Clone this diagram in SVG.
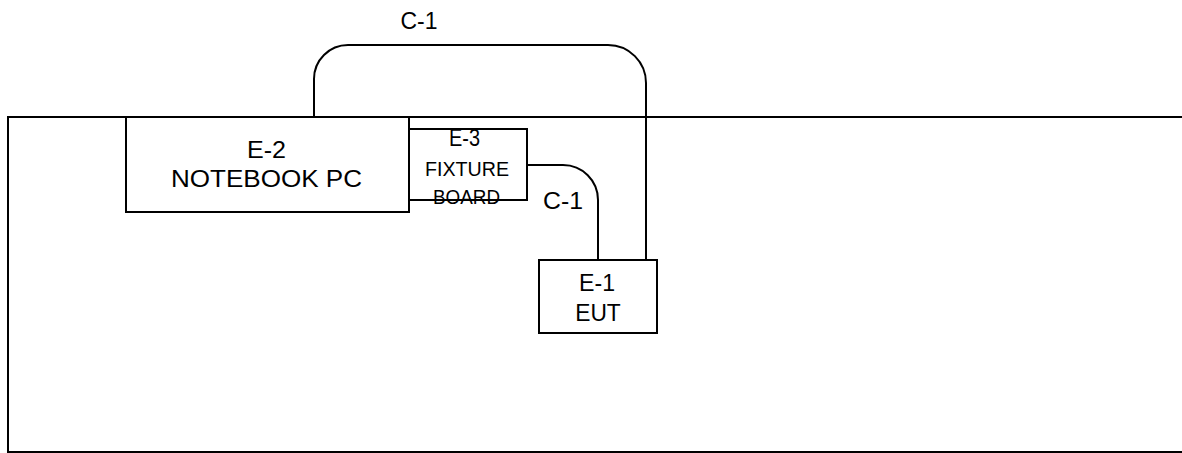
<svg xmlns="http://www.w3.org/2000/svg" width="1182" height="453" viewBox="0 0 1182 453">
<style>
.box{fill:#fff;stroke:#000;stroke-width:2}
.line{fill:none;stroke:#000;stroke-width:2}
text{font-family:"Liberation Sans",Arial,sans-serif;fill:#000;text-anchor:middle}
.t{font-size:23px}
.b{font-size:24px}
.s{font-size:20px}
</style>
<rect width="1182" height="453" fill="#fff"/>
<g id="table">
<path class="line" d="M1183,117 H8 V452 H1183"/>
</g>
<g id="connectors">
<path class="line" d="M314,117 V79 A34,34 0 0 1 348,45 H608 A38,38 0 0 1 646,83 V260"/>
<path class="line" d="M527,165 H563 A35,35 0 0 1 598,200 V260"/>
<text class="t" x="419" y="28.5" textLength="37" lengthAdjust="spacingAndGlyphs">C-1</text>
<text class="t" x="563" y="208.5" textLength="40" lengthAdjust="spacingAndGlyphs">C-1</text>
</g>
<g id="E-2">
<rect class="box" x="126" y="117" width="283" height="95"/>
<text class="b" x="266.5" y="158" textLength="39" lengthAdjust="spacingAndGlyphs">E-2</text>
<text class="b" x="266.5" y="186.5" textLength="191" lengthAdjust="spacingAndGlyphs">NOTEBOOK PC</text>
</g>
<g id="E-3">
<rect class="box" x="409" y="129" width="118" height="71"/>
<text class="t" x="464.5" y="145.5" textLength="31" lengthAdjust="spacingAndGlyphs">E-3</text>
<text class="s" x="467" y="176" textLength="84" lengthAdjust="spacingAndGlyphs">FIXTURE</text>
<text class="s" x="466.5" y="203.5" textLength="67" lengthAdjust="spacingAndGlyphs">BOARD</text>
</g>
<g id="E-1">
<rect class="box" x="539" y="260" width="118" height="73"/>
<text class="b" x="597" y="291" textLength="36" lengthAdjust="spacingAndGlyphs">E-1</text>
<text class="b" x="598" y="321" textLength="45.5" lengthAdjust="spacingAndGlyphs">EUT</text>
</g>
</svg>
